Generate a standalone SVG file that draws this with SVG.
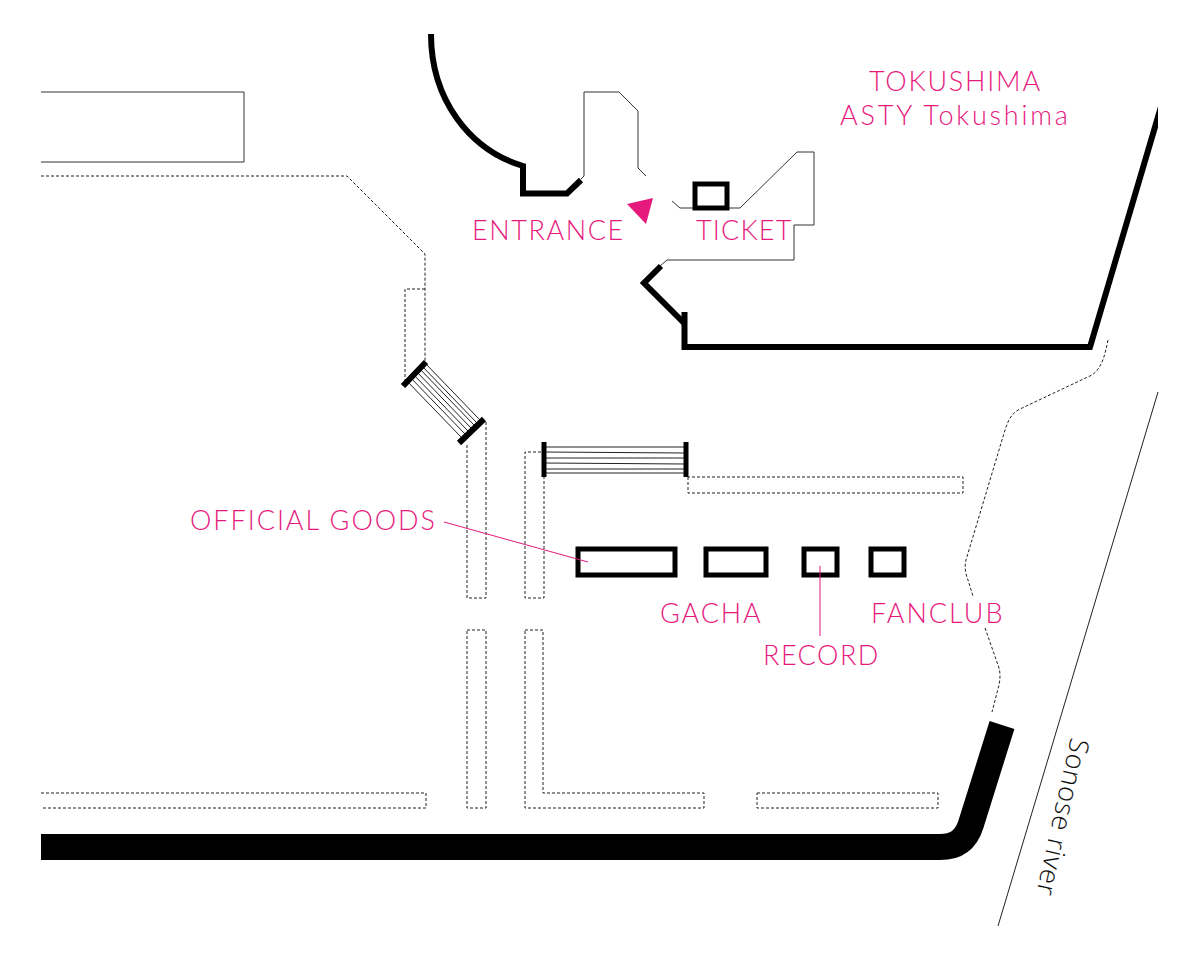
<svg xmlns="http://www.w3.org/2000/svg" width="1200" height="960" viewBox="0 0 1200 960">
<defs><clipPath id="wallclip"><rect x="0" y="0" width="1158" height="960"/></clipPath></defs>
<style>
.thick{fill:none;stroke:#000;stroke-width:6}
.thin{fill:none;stroke:#333;stroke-width:1}
.dash{fill:none;stroke:#222;stroke-width:1;stroke-dasharray:3 2}
.stall{fill:none;stroke:#000;stroke-width:5}
.lbl{font-family:Lato,"Open Sans","Liberation Sans",sans-serif;font-weight:300;font-size:27px;fill:#e6197d;letter-spacing:1.8px}
.lead{fill:none;stroke:#e6197d;stroke-width:1}
.step{stroke:#222;stroke-width:1}
</style>
<rect width="1200" height="960" fill="#fff"/>
<g id="building">
<path class="thin" d="M41 92H244V162H41"/>
<path class="thick" d="M431 34C431 100 470 150 523 166V193.500H567L581 180"/>
<path class="thin" d="M581 179L584 176V92H619L638 111V168L646 176"/>
<path class="thin" d="M672 201L680 208H693M729 208H740L797 152H814V225H794V260H667L660 266"/>
<path class="thick" d="M661 266L644 283L685 324"/>
<path class="thick" clip-path="url(#wallclip)" d="M684.500 312V347H1090L1163 100"/>
</g>
<g id="walkways">
<path class="dash" d="M41 176H347L425 254V366"/>
<path class="dash" d="M405 382V289H425"/>
<path class="dash" d="M467 445V598H486V421"/>
<path class="dash" d="M467 630H486V808H467Z"/>
<path class="dash" d="M541 452H525V598H544V476"/>
<path class="dash" d="M525 630H543V793H704V808H525Z"/>
<path class="dash" d="M688 477V493H963V477H688"/>
<path class="dash" d="M41 793H426V808H41"/>
<path class="dash" d="M757 793H938V808H757Z"/>
<path class="dash" d="M1108 340C1105 355 1102 368 1092 375L1020 409C1010 414 1008 422 1005 430L966 560C964 568 966 575 968 580L973 596M985 628L998 665C1001 672 1000 680 999 685L992 712"/>
</g>
<g id="stairs">
<path class="step" d="M424 362L480 420M421 365L477 423M418 367L474 425M415 370L471 428M412 373L468 431M409 376L465 434M405 379L461 437"/>
<path d="M403 386L426 362M459 443L484 419" fill="none" stroke="#000" stroke-width="6"/>
<path class="step" d="M544 447H686M544 452L686 453M544 458H686M544 463L686 464M544 469H686M544 473H686"/>
<path d="M544 442V477M686 442V477" fill="none" stroke="#000" stroke-width="5"/>
</g>
<g id="road">
<path d="M41 847H940C956 847 966 840 971 824L1002 725" fill="none" stroke="#000" stroke-width="26"/>
</g>
<g id="river">
<path d="M1158 392L998 926" fill="none" stroke="#222" stroke-width="1"/>
<text transform="translate(1071 737) rotate(102.500)" font-family="'Open Sans','Liberation Sans',sans-serif" font-weight="300" font-size="27" fill="#111" letter-spacing="0.800">Sonose river</text>
</g>
<g id="ticket"><rect class="stall" x="695" y="184" width="32" height="24"/><text class="lbl" x="696" y="240" style="letter-spacing:1.200px">TICKET</text></g>
<g id="entrance"><polygon points="627,204 653,198 646,224" fill="#e6197d"/><text class="lbl" x="472" y="240" style="letter-spacing:1.600px">ENTRANCE</text></g>
<g id="goods"><rect class="stall" x="578" y="549" width="97" height="26"/><text class="lbl" x="190" y="530" style="letter-spacing:1.950px">OFFICIAL GOODS</text></g>
<g id="gacha"><rect class="stall" x="706" y="549" width="60" height="26"/><text class="lbl" x="660" y="623">GACHA</text></g>
<g id="record"><rect class="stall" x="804" y="549" width="33" height="26"/><text class="lbl" x="763" y="665" style="letter-spacing:1.500px">RECORD</text></g>
<g id="fanclub"><rect class="stall" x="871" y="549" width="33" height="26"/><text class="lbl" x="871" y="623" style="letter-spacing:2px">FANCLUB</text></g>
<g id="title"><text class="lbl" x="869" y="91">TOKUSHIMA</text><text class="lbl" x="840" y="125" style="letter-spacing:2.800px">ASTY Tokushima</text></g>
<g id="connectors">
<path class="lead" d="M444 522L588 562"/>
<path class="lead" d="M820 566V636"/>
</g>
</svg>
